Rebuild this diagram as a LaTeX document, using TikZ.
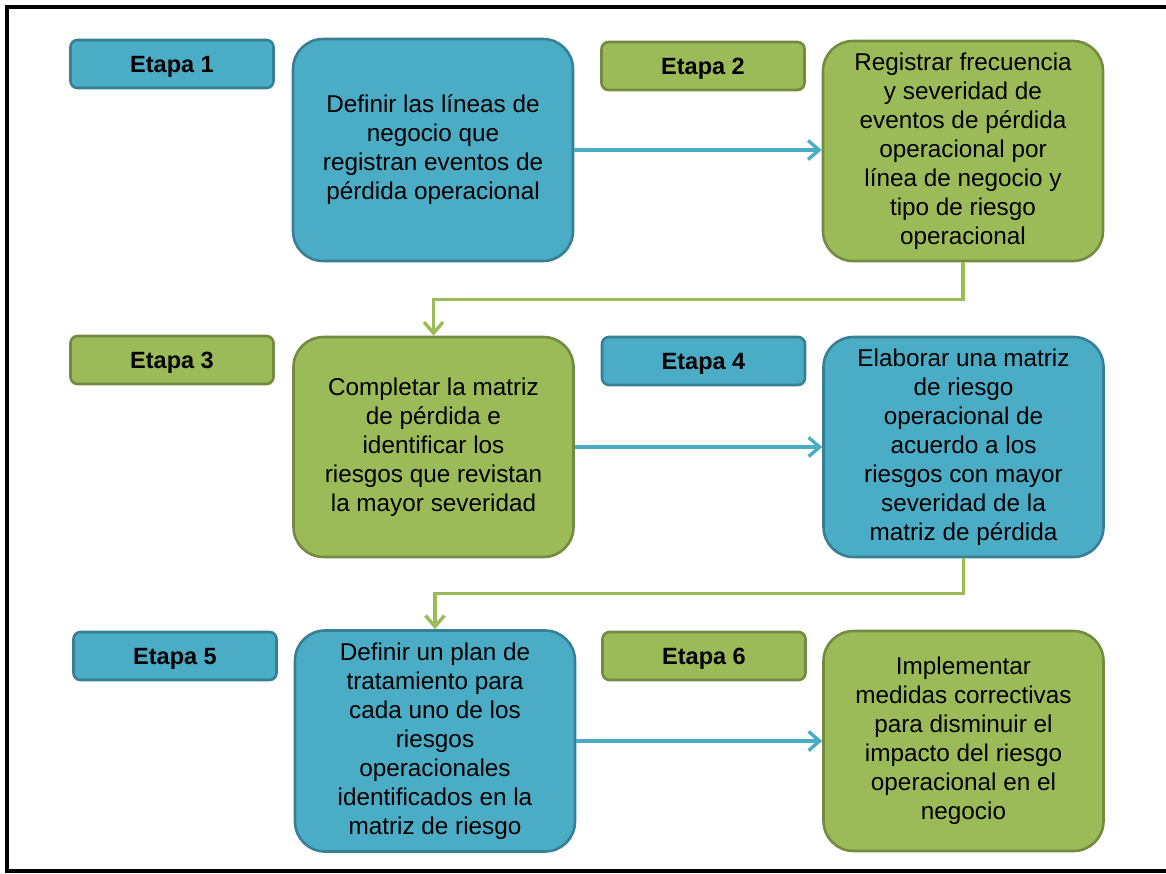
\documentclass[tikz,border=0pt]{standalone}
\usepackage{fontspec}
\setmainfont{Liberation Sans}
\usetikzlibrary{arrows.meta}

\definecolor{tealfill}{HTML}{4BACC6}
\definecolor{tealline}{HTML}{377F93}
\definecolor{olivefill}{HTML}{9BBB59}
\definecolor{oliveline}{HTML}{738B41}

\tikzset{
  box/.style={rectangle, rounded corners=30pt, line width=2.6pt, inner sep=0pt,
    minimum width=280pt, minimum height=220pt, align=center, text=black,
    font=\fontsize{24.3}{29}\selectfont},
  bluebox/.style={box, fill=tealfill, draw=tealline},
  greenbox/.style={box, fill=olivefill, draw=oliveline},
  tag/.style={rectangle, rounded corners=7pt, line width=2.6pt, inner sep=0pt,
    minimum width=203pt, minimum height=48pt, text=black, text depth=0pt,
    font=\fontsize{23.5}{26}\selectfont\bfseries},
  bluetag/.style={tag, fill=tealfill, draw=tealline},
  greentag/.style={tag, fill=olivefill, draw=oliveline},
  flow/.style={line width=3.4pt, -{Straight Barb[length=11pt,width=19pt]}},
  blueflow/.style={flow, draw=tealfill},
  greenflow/.style={flow, draw=olivefill},
}

\begin{document}
\begin{tikzpicture}[x=1pt, y=-1pt]
  \useasboundingbox (0,0) rectangle (1166,873);
  % frame
  \draw[line width=4pt] (1166,7) -- (7,7) -- (7,871) -- (1166,871);

  % row 1
  \node[bluetag]  (t1) at (172,64)  {Etapa 1};
  \node[bluebox, minimum height=222pt] (b1) at (433,150)
    {Definir las líneas de\\negocio que\\registran eventos de\\pérdida operacional};
  \node[greentag] (t2) at (703,66)  {Etapa 2};
  \node[greenbox] (b2) at (963,151)
    {Registrar frecuencia\\y severidad de\\eventos de pérdida\\operacional por\\línea de negocio y\\tipo de riesgo\\operacional};

  % row 2
  \node[greentag] (t3) at (172,360) {Etapa 3};
  \node[greenbox] (b3) at (433.5,447)
    {Completar la matriz\\de pérdida e\\identificar los\\riesgos que revistan\\la mayor severidad};
  \node[bluetag]  (t4) at (703.5,361) {Etapa 4};
  \node[bluebox]  (b4) at (963.5,447)
    {Elaborar una matriz\\de riesgo\\operacional de\\acuerdo a los\\riesgos con mayor\\severidad de la\\matriz de pérdida};

  % row 3
  \node[bluetag]  (t5) at (175,656) {Etapa 5};
  \node[bluebox, minimum height=221pt] (b5) at (435,741)
    {Definir un plan de\\tratamiento para\\cada uno de los\\riesgos\\operacionales\\identificados en la\\matriz de riesgo};
  \node[greentag] (t6) at (704,656) {Etapa 6};
  \node[greenbox] (b6) at (963.5,741)
    {Implementar\\medidas correctivas\\para disminuir el\\impacto del riesgo\\operacional en el\\negocio};

  % connectors
  \draw[blueflow] (b1.east) -- (b1.east -| b2.west);
  \draw[blueflow] (b3.east) -- (b3.east -| b4.west);
  \draw[blueflow] (b5.east) -- (b5.east -| b6.west);
  \draw[greenflow] (b2.south) -- ++(0,37) -| (b3.north);
  \draw[greenflow] (b4.south) -- ++(0,35) -| (b5.north);
\end{tikzpicture}
\end{document}
